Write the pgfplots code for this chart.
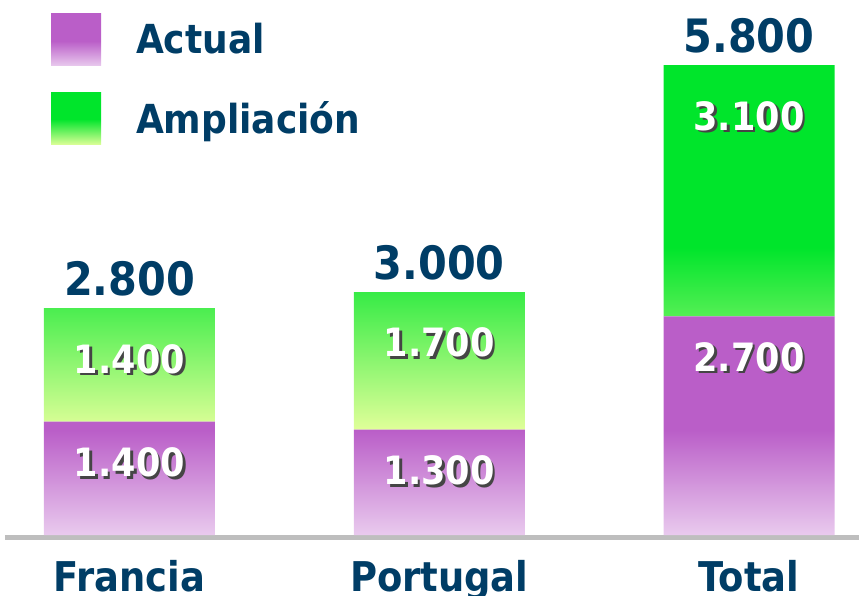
\documentclass[border=0pt]{standalone}
\usepackage{fontspec}
\setmainfont{DejaVu Sans}[FakeStretch=0.9]
\usepackage{pgfplots}
\pgfplotsset{compat=1.18}

\definecolor{purp}{HTML}{BA5EC8}
\definecolor{purpL}{HTML}{E9CAEE}
\definecolor{grn}{HTML}{00E52B}
\definecolor{grnL}{HTML}{E0FF99}
\definecolor{dkblue}{HTML}{003D66}
\definecolor{axgray}{HTML}{BEBEBE}
\definecolor{shadowc}{HTML}{454545}

% bottom of the bar sits at 25bp, top at 75bp
\pgfdeclareverticalshading{purpsh}{100bp}{color(0bp)=(purpL); color(25bp)=(purpL); color(49bp)=(purp); color(100bp)=(purp)}
\pgfdeclareverticalshading{grnsh}{100bp}{color(0bp)=(grnL); color(25bp)=(grnL); color(50bp)=(grn); color(100bp)=(grn)}

\newcommand\shtext[1]{\makebox[0pt][l]{\hspace{2.5pt}\raisebox{-2.5pt}{\color{shadowc}#1}}{\color{white}#1}}
\newcommand\lblfont{\fontsize{39}{44}\selectfont\bfseries}

\pgfplotsset{
  frame/.style={
    scale only axis,
    width=859pt, height=596pt,
    xmin=-0.418, xmax=2.355,
    ymin=-753, ymax=6605,
    clip=false,
    point meta=explicit symbolic,
  },
}

\begin{document}
\begin{tikzpicture}
\begin{axis}[
  frame,
  ybar stacked,
  bar width=171pt,
  axis lines*=left,
  axis line style={draw=none},
  ytick=\empty,
  xtick=data,
  xticklabels={Francia,Portugal,Total},
  major tick length=0pt,
  xticklabel style={font=\fontsize{41}{45}\selectfont\bfseries, text=dkblue, anchor=base, yshift=4pt},
  legend style={at={(rel axis cs:0,1)}, anchor=north west, xshift=51pt, yshift=-14pt,
    draw=none, fill=none, inner sep=0pt, outer sep=0pt,
    row sep=27pt, column sep=35pt,
    font=\fontsize{40}{44}\selectfont\bfseries, text=dkblue,
    nodes={inner sep=0pt}},
  legend cell align=left,
  mylegend/.style={legend image code/.code={\path[##1, draw=none] (0pt,-27pt) rectangle (50pt,25pt);}},
  visualization depends on=rawy \as \rawy,
]
% labels sit at the segment centre; move them to a fixed gap below the top
\addplot[draw=none, shading=purpsh, mylegend,
  nodes near coords={\shtext{\pgfplotspointmeta}},
  every node near coord/.append style={anchor=center, yshift={\rawy*0.0405pt-42pt}, font=\lblfont}]
  coordinates {(0,1400) [1.400] (1,1300) [1.300] (2,2700) [2.700]};
\addplot[draw=none, shading=grnsh, mylegend,
  nodes near coords={\shtext{\pgfplotspointmeta}},
  every node near coord/.append style={anchor=center, yshift={\rawy*0.0405pt-52pt}, font=\lblfont}]
  coordinates {(0,1400) [1.400] (1,1700) [1.700] (2,3100) [3.100]};
\legend{Actual, Ampliación}
\draw[line width=5pt, draw=axgray] ([yshift=-2.5pt]axis cs:-0.402,0) -- ([yshift=-2.5pt]axis cs:2.355,0);
\coordinate (bl) at (rel axis cs:0,0);
\coordinate (tr) at (rel axis cs:1,1);
\end{axis}
% totals above the stacks
\begin{axis}[frame, hide axis]
\addplot[only marks, mark=none, nodes near coords,
  every node near coord/.append style={anchor=center, yshift=29pt,
    font=\fontsize{46}{50}\selectfont\bfseries, text=dkblue}]
  coordinates {(0,2800) [2.800] (1,3000) [3.000] (2,5800) [5.800]};
\end{axis}
\pgfresetboundingbox
\path[use as bounding box] (bl) rectangle (tr);
\end{tikzpicture}
\end{document}
